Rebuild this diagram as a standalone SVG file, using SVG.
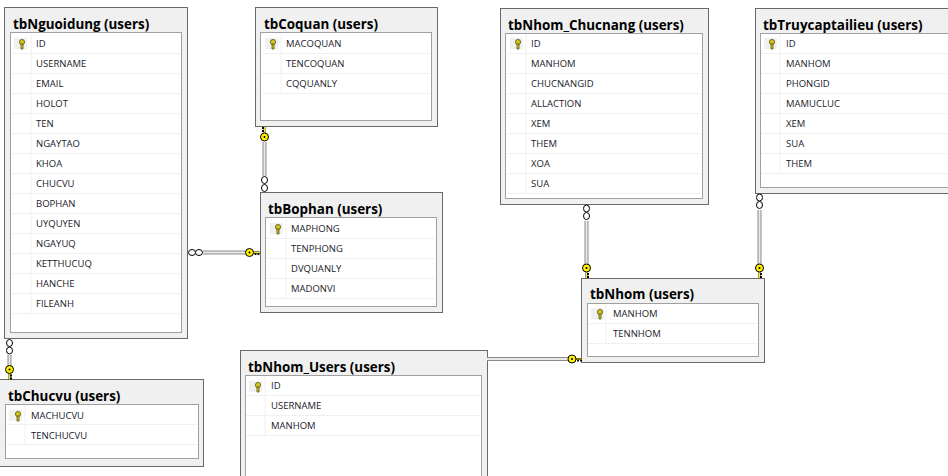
<svg xmlns="http://www.w3.org/2000/svg" width="948" height="476" viewBox="0 0 948 476">
<style>
.o{fill:#f0f0f0;stroke:#696969;stroke-width:1}
.i{fill:#fff;stroke:#a0a0a0;stroke-width:1}
.s{fill:none;stroke:#f0f0f0;stroke-width:1}
.kb{fill:#f0f0f0}
.t{font:bold 13.400px "Open Sans","Noto Sans",sans-serif;fill:#000}
.r{font:9.500px "Open Sans","Noto Sans",sans-serif;fill:#1a1a2a}
.c1{fill:#8c8c8c}
.c2{fill:#e8e8e8}
.ring{fill:#fff;stroke:#000;stroke-width:1}
.ky{fill:#ffef00;stroke:#000;stroke-width:1}
.ks{fill:#d2c51e;stroke:#5a5510;stroke-width:.8}
</style>
<defs>
<g id="pk"><circle cx="0" cy="-2" r="2.6" class="ks"/><path d="M-1,0V5H1V0Z" class="ks"/></g>
<g id="kd"><path d="M0,3V10M0,6H2.500M0,9H2.500" fill="none" stroke="#000" stroke-width="1.800"/><path d="M0,3V10" fill="none" stroke="#ffef00" stroke-width="1"/><circle cx="0" cy="0" r="4" class="ky"/><circle cx="0" cy="0" r="1" fill="#000"/></g>
<g id="ku"><path d="M0,-3V-10M0,-6H-2.500M0,-9H-2.500" fill="none" stroke="#000" stroke-width="1.800"/><path d="M0,-3V-10" fill="none" stroke="#ffef00" stroke-width="1"/><circle cx="0" cy="0" r="4" class="ky"/><circle cx="0" cy="0" r="1" fill="#000"/></g>
<g id="kr"><path d="M3,0H10M6,0V2.500M9,0V2.500" fill="none" stroke="#000" stroke-width="1.800"/><path d="M3,0H10" fill="none" stroke="#ffef00" stroke-width="1"/><circle cx="0" cy="0" r="4" class="ky"/><circle cx="0" cy="0" r="1" fill="#000"/></g>
</defs>
<rect width="948" height="476" fill="#fff"/>
<g id="tbNguoidung"><rect x="4.500" y="7.500" width="183" height="331" class="o"/><rect x="10.500" y="32.500" width="171" height="300" class="i"/><path class="s" d="M31,34V314M12,53.500H180M12,73.500H180M12,93.500H180M12,113.500H180M12,133.500H180M12,153.500H180M12,173.500H180M12,193.500H180M12,213.500H180M12,233.500H180M12,253.500H180M12,273.500H180M12,293.500H180M12,313.500H180"/><rect x="14" y="38" width="13" height="11" class="kb"/><use href="#pk" x="22" y="44"/><text class="t" x="13" y="29">tbNguoidung (users)</text><text class="r" x="36" y="47">ID</text><text class="r" x="36" y="67">USERNAME</text><text class="r" x="36" y="87">EMAIL</text><text class="r" x="36" y="107">HOLOT</text><text class="r" x="36" y="127">TEN</text><text class="r" x="36" y="147">NGAYTAO</text><text class="r" x="36" y="167">KHOA</text><text class="r" x="36" y="187">CHUCVU</text><text class="r" x="36" y="207">BOPHAN</text><text class="r" x="36" y="227">UYQUYEN</text><text class="r" x="36" y="247">NGAYUQ</text><text class="r" x="36" y="267">KETTHUCUQ</text><text class="r" x="36" y="287">HANCHE</text><text class="r" x="36" y="307">FILEANH</text></g>
<g id="tbCoquan"><rect x="255.500" y="7.500" width="182" height="119" class="o"/><rect x="260.500" y="32.500" width="171" height="88" class="i"/><path class="s" d="M281,34V94M262,53.500H430M262,73.500H430M262,93.500H430"/><rect x="265" y="38" width="13" height="11" class="kb"/><use href="#pk" x="273" y="44"/><text class="t" x="264" y="29">tbCoquan (users)</text><text class="r" x="286" y="47">MACOQUAN</text><text class="r" x="286" y="67">TENCOQUAN</text><text class="r" x="286" y="87">CQQUANLY</text></g>
<g id="tbBophan"><rect x="260.500" y="192.500" width="182" height="120" class="o"/><rect x="265.500" y="217.500" width="171" height="89" class="i"/><path class="s" d="M286,219V299M267,238.500H435M267,258.500H435M267,278.500H435M267,298.500H435"/><rect x="270" y="223" width="13" height="11" class="kb"/><use href="#pk" x="278" y="229"/><text class="t" x="268" y="214">tbBophan (users)</text><text class="r" x="291" y="232">MAPHONG</text><text class="r" x="291" y="252">TENPHONG</text><text class="r" x="291" y="272">DVQUANLY</text><text class="r" x="291" y="292">MADONVI</text></g>
<g id="tbNhom_Chucnang"><rect x="500.500" y="8.500" width="208" height="196" class="o"/><rect x="505.500" y="33.500" width="197" height="165" class="i"/><path class="s" d="M526,34V194M507,53.500H701M507,73.500H701M507,93.500H701M507,113.500H701M507,133.500H701M507,153.500H701M507,173.500H701M507,193.500H701"/><rect x="510" y="38" width="13" height="11" class="kb"/><use href="#pk" x="518" y="44"/><text class="t" x="508" y="30">tbNhom_Chucnang (users)</text><text class="r" x="531" y="47">ID</text><text class="r" x="531" y="67">MANHOM</text><text class="r" x="531" y="87">CHUCNANGID</text><text class="r" x="531" y="107">ALLACTION</text><text class="r" x="531" y="127">XEM</text><text class="r" x="531" y="147">THEM</text><text class="r" x="531" y="167">XOA</text><text class="r" x="531" y="187">SUA</text></g>
<g id="tbTruycaptailieu"><rect x="755.500" y="8.500" width="200" height="185" class="o"/><rect x="760.500" y="33.500" width="195" height="154" class="i"/><path class="s" d="M780,34V174M761,53.500H950M761,73.500H950M761,93.500H950M761,113.500H950M761,133.500H950M761,153.500H950M761,173.500H950"/><rect x="764" y="38" width="13" height="11" class="kb"/><use href="#pk" x="772" y="44"/><text class="t" x="763" y="30">tbTruycaptailieu (users)</text><text class="r" x="786" y="47">ID</text><text class="r" x="786" y="67">MANHOM</text><text class="r" x="786" y="87">PHONGID</text><text class="r" x="786" y="107">MAMUCLUC</text><text class="r" x="786" y="127">XEM</text><text class="r" x="786" y="147">SUA</text><text class="r" x="786" y="167">THEM</text></g>
<g id="tbNhom"><rect x="581.500" y="278.500" width="183" height="84" class="o"/><rect x="587.500" y="303.500" width="171" height="53" class="i"/><path class="s" d="M606,304V343M588,323.500H757M588,343.500H757"/><rect x="591" y="308" width="13" height="11" class="kb"/><use href="#pk" x="600" y="314"/><text class="t" x="590" y="299">tbNhom (users)</text><text class="r" x="613" y="317">MANHOM</text><text class="r" x="613" y="337">TENNHOM</text></g>
<g id="tbChucvu"><rect x="-3" y="379.500" width="206.500" height="87" class="o"/><rect x="5.500" y="404.500" width="193" height="54" class="i"/><path class="s" d="M25,405V445M7,424.500H197M7,444.500H197"/><rect x="9" y="410" width="13" height="11" class="kb"/><use href="#pk" x="18" y="416"/><text class="t" x="8" y="401">tbChucvu (users)</text><text class="r" x="31" y="419">MACHUCVU</text><text class="r" x="31" y="439">TENCHUCVU</text></g>
<g id="tbNhom_Users"><rect x="240.500" y="350.500" width="247" height="135" class="o"/><rect x="245.500" y="375.500" width="236" height="110" class="i"/><path class="s" d="M265,376V436M246,395.500H480M246,415.500H480M246,435.500H480"/><rect x="249" y="381" width="13" height="11" class="kb"/><use href="#pk" x="258" y="387"/><text class="t" x="248" y="372">tbNhom_Users (users)</text><text class="r" x="271" y="389">ID</text><text class="r" x="271" y="409">USERNAME</text><text class="r" x="271" y="429">MANHOM</text></g>
<g id="connectors">
<g id="c-coquan-bophan"><rect x="262.500" y="142" width="4" height="34" class="c1"/><rect x="263.500" y="142" width="2" height="34" class="c2"/><use href="#ku" x="264.500" y="137"/><ellipse cx="264.500" cy="180" rx="3" ry="3.500" class="ring"/><ellipse cx="264.500" cy="188" rx="3" ry="3.500" class="ring"/></g>
<g id="c-nguoidung-bophan"><rect x="203" y="250.500" width="43" height="4" class="c1"/><rect x="203" y="251.500" width="43" height="2" class="c2"/><ellipse cx="192" cy="252.500" rx="3.500" ry="3" class="ring"/><ellipse cx="199" cy="252.500" rx="3.500" ry="3" class="ring"/><use href="#kr" x="249.500" y="252.500"/></g>
<g id="c-nguoidung-chucvu"><rect x="7.500" y="355" width="4" height="11" class="c1"/><rect x="8.500" y="355" width="2" height="11" class="c2"/><ellipse cx="9.500" cy="343" rx="3" ry="3.500" class="ring"/><ellipse cx="9.500" cy="350.500" rx="3" ry="3.500" class="ring"/><use href="#kd" x="9.500" y="369.500"/></g>
<g id="c-chucnang-nhom"><rect x="584.500" y="221" width="4" height="43" class="c1"/><rect x="585.500" y="221" width="2" height="43" class="c2"/><ellipse cx="586.500" cy="208.500" rx="3" ry="3.500" class="ring"/><ellipse cx="586.500" cy="216" rx="3" ry="3.500" class="ring"/><use href="#kd" x="586.500" y="268"/></g>
<g id="c-truycap-nhom"><rect x="757.500" y="210" width="4" height="54" class="c1"/><rect x="758.500" y="210" width="2" height="54" class="c2"/><ellipse cx="759.500" cy="197.500" rx="3" ry="3.500" class="ring"/><ellipse cx="759.500" cy="205" rx="3" ry="3.500" class="ring"/><use href="#kd" x="759.500" y="268"/></g>
<g id="c-users-nhom"><rect x="487" y="357" width="81" height="4" class="c1"/><rect x="487" y="358" width="81" height="2" class="c2"/><use href="#kr" x="572" y="359"/></g>
</g>
</svg>
